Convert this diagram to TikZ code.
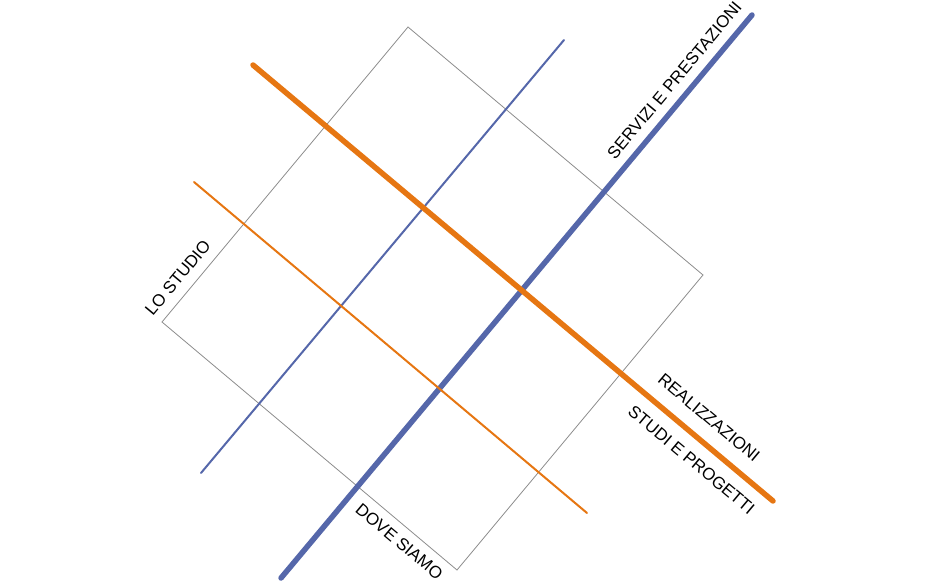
\documentclass[tikz,border=0pt]{standalone}
\usepackage{fontspec}
\setmainfont{Liberation Sans}
\definecolor{menuorange}{HTML}{E67612}
\definecolor{menublue}{HTML}{5567AA}

\begin{document}
\begin{tikzpicture}[x=1pt,y=-1pt,line cap=round,
		frame/.style={draw=gray!90,line width=0.8pt,line cap=butt},
		thick blue/.style={draw=menublue,line width=5.5pt},
		thin blue/.style={draw=menublue,line width=2pt},
		thick orange/.style={draw=menuorange,line width=5.5pt},
		thin orange/.style={draw=menuorange,line width=2pt},
		menu/.style={font=\fontsize{17}{20}\selectfont,inner sep=0pt,sloped}]
		
		\useasboundingbox (0,0) rectangle (950,587);
		
		% frame
		\coordinate (top) at (408,27);
		\coordinate (right) at (703,275);
		\coordinate (bottom) at (457,570);
		\coordinate (left) at (162,322);
		\draw[frame] (top) -- (right) -- (bottom) -- (left) -- cycle;
		\path (left) -- (top) node[menu, pos=0.115, above=10pt] {LO STUDIO};
		\path (left) -- (bottom) node[menu, pos=0.838, below=9pt] {DOVE SIAMO};
		
		% blue lines
		\coordinate (b1) at (201,473);
		\coordinate (b2) at (564,40);
		\coordinate (B1) at (281,578);
		\coordinate (B2) at (752,15);
		\draw[thin blue] (b1) -- (b2);
		\draw[thick blue] (B1) -- (B2)
		node[menu, pos=0.864, above=9pt, text=black] {SERVIZI E PRESTAZIONI};
		
		% orange lines
		\coordinate (o1) at (194,182);
		\coordinate (o2) at (587,513);
		\coordinate (O1) at (253,65);
		\coordinate (O2) at (773,501);
		\draw[thin orange] (o1) -- (o2);
		\draw[thick orange] (O1) -- (O2)
		node[menu, pos=0.849, above=14pt, text=black] {REALIZZAZIONI}
		node[menu, pos=0.869, below=12pt, text=black] {STUDI E PROGETTI};
\end{tikzpicture}
\end{document}
